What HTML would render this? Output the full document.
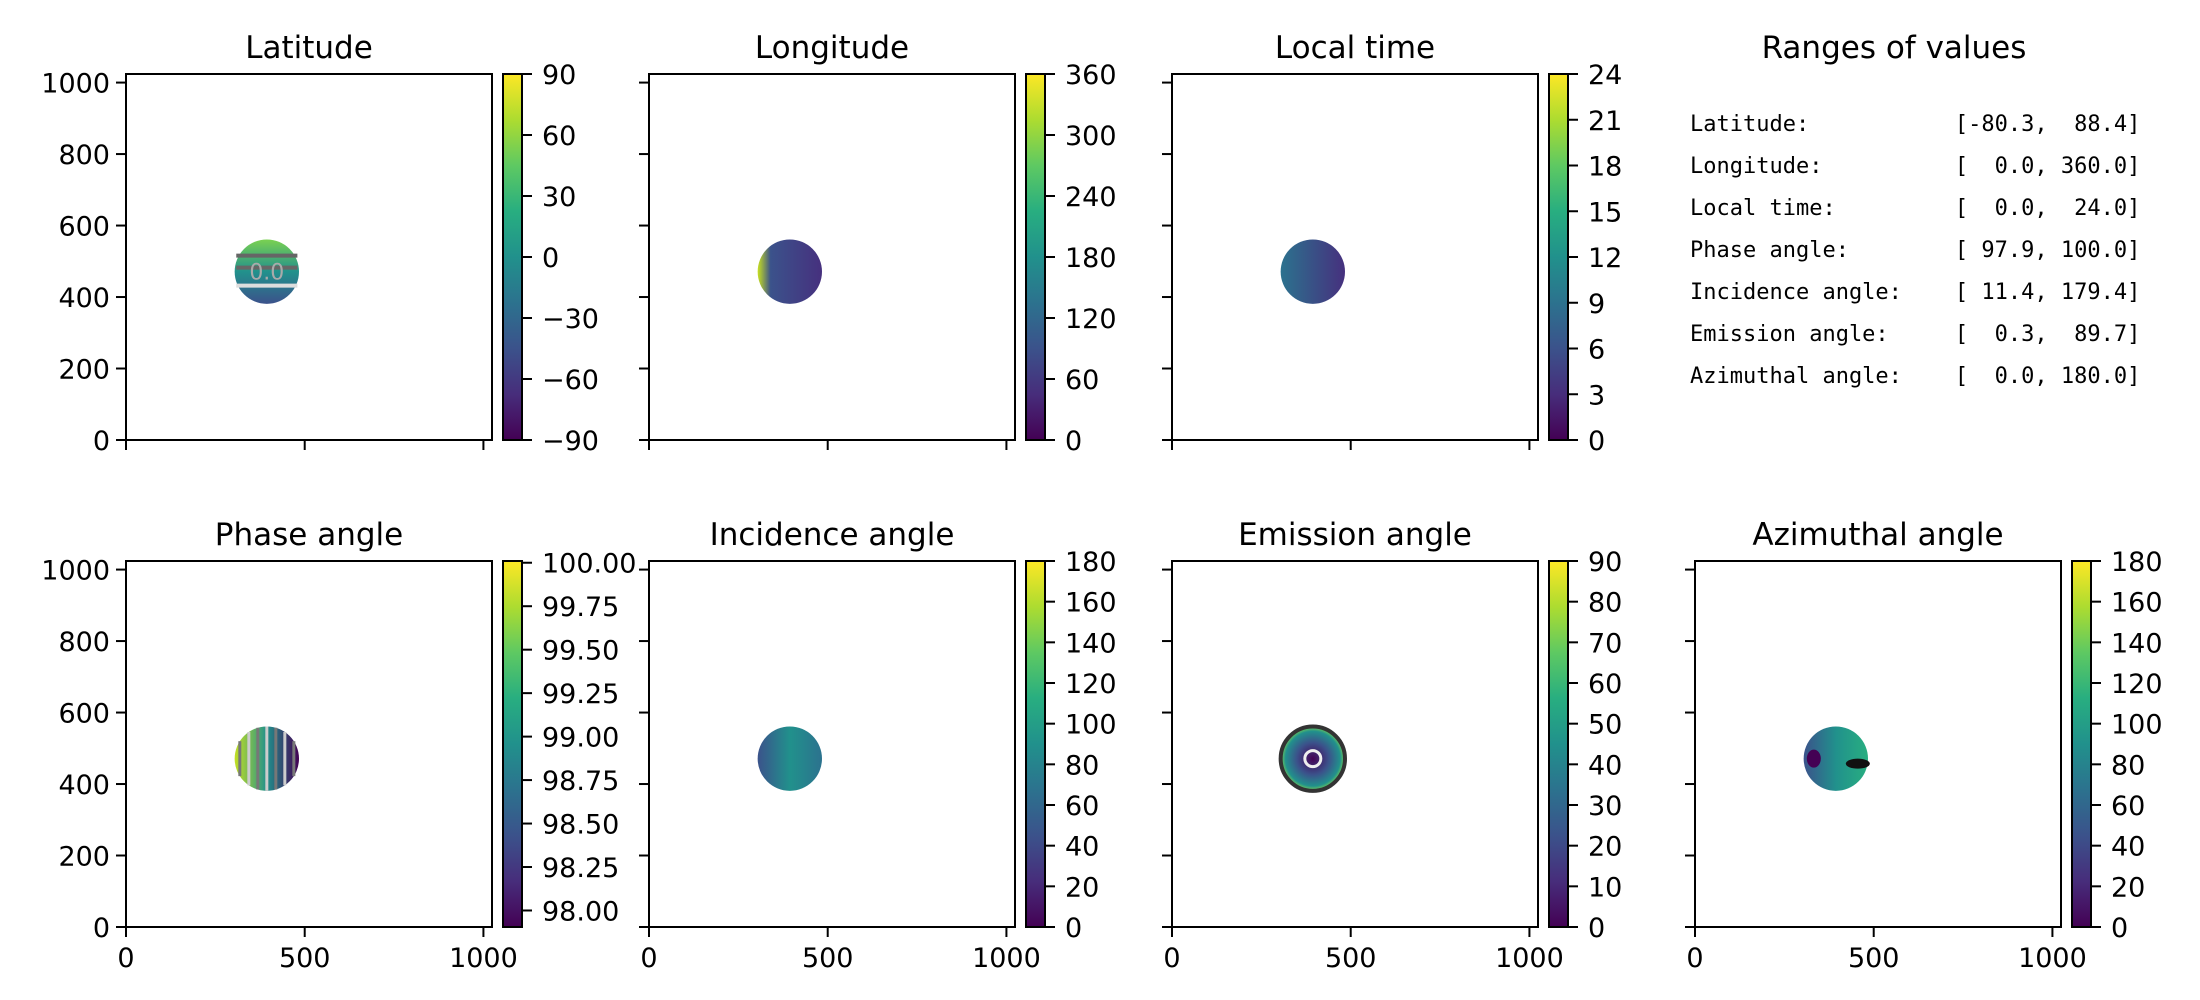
<!DOCTYPE html>
<html><head><meta charset="utf-8"><style>
html,body{margin:0;padding:0;background:#fff;}
svg{display:block;font-family:"DejaVu Sans","Liberation Sans",sans-serif;}
</style></head><body>
<svg id="fig" width="2200" height="1000" viewBox="0 0 2200 1000" xmlns="http://www.w3.org/2000/svg">
<defs>
<linearGradient id="vir" x1="0" y1="1" x2="0" y2="0">
<stop offset="0" stop-color="#440154"/><stop offset="0.125" stop-color="#472d7b"/><stop offset="0.25" stop-color="#3b528b"/><stop offset="0.375" stop-color="#2c728e"/><stop offset="0.5" stop-color="#21918c"/><stop offset="0.625" stop-color="#28ae80"/><stop offset="0.75" stop-color="#5ec962"/><stop offset="0.875" stop-color="#addc30"/><stop offset="1" stop-color="#fde725"/>
</linearGradient>
<linearGradient id="gLat" x1="0" y1="0" x2="0" y2="1"><stop offset="0" stop-color="#7ad151"/><stop offset="0.5" stop-color="#21918c"/><stop offset="1" stop-color="#3b528b"/></linearGradient>
<linearGradient id="gLon" x1="0" y1="0" x2="1" y2="0"><stop offset="0" stop-color="#c8e020"/><stop offset="0.2" stop-color="#3b528b"/><stop offset="1" stop-color="#46307e"/></linearGradient>
<linearGradient id="gLt" x1="0" y1="0" x2="1" y2="0"><stop offset="0" stop-color="#2c728e"/><stop offset="1" stop-color="#46307e"/></linearGradient>
<linearGradient id="gPh" x1="0" y1="0" x2="1" y2="0"><stop offset="0" stop-color="#c2df23"/><stop offset="0.5" stop-color="#21918c"/><stop offset="1" stop-color="#440154"/></linearGradient>
<linearGradient id="gInc" x1="0" y1="0" x2="1" y2="0"><stop offset="0" stop-color="#3b528b"/><stop offset="0.5" stop-color="#21918c"/><stop offset="1" stop-color="#2c728e"/></linearGradient>
<radialGradient id="gEm"><stop offset="0" stop-color="#440154"/><stop offset="0.5" stop-color="#3b528b"/><stop offset="0.85" stop-color="#21918c"/><stop offset="1" stop-color="#7ad151"/></radialGradient>
<linearGradient id="gAz" x1="0" y1="0" x2="1" y2="0"><stop offset="0" stop-color="#3b528b"/><stop offset="0.5" stop-color="#21918c"/><stop offset="1" stop-color="#28ae80"/></linearGradient>
</defs>
<text x="1894" y="58" font-size="31" text-anchor="middle">Ranges of values</text>
<g id="ranges" font-family="'DejaVu Sans Mono','Liberation Mono',monospace" font-size="22"></g>
</svg>
<script>
const panelTitles = ["Latitude","Longitude","Local time","Phase angle","Incidence angle","Emission angle","Azimuthal angle"];
const cbarMin = [-90, 0, 0, 97.905, 0, 0, 0];
const cbarMax = [90, 360, 24, 100.01, 180, 90, 180];
const cbarTicks = [
  [-90,-60,-30,0,30,60,90],
  [0,60,120,180,240,300,360],
  [0,3,6,9,12,15,18,21,24],
  [98.00,98.25,98.50,98.75,99.00,99.25,99.50,99.75,100.00],
  [0,20,40,60,80,100,120,140,160,180],
  [0,10,20,30,40,50,60,70,80,90],
  [0,20,40,60,80,100,120,140,160,180]
];
const cbarDecimals = [0,0,0,2,0,0,0];
const discFill = ["gLat","gLon","gLt","gPh","gInc","gEm","gAz"];
const discCenterX = [394,394,394,394,394,394,394];
const discCenterY = [471,471,471,471,471,471,471];
const discRadius = [90,90,90,90,90,90,90];
const axisTicks = [0,200,400,600,800,1000];
const xTicks = [0,500,1000];
const rangeNames = ["Latitude:","Longitude:","Local time:","Phase angle:","Incidence angle:","Emission angle:","Azimuthal angle:"];
const rangeValues = ["[-80.3,  88.4]","[  0.0, 360.0]","[  0.0,  24.0]","[ 97.9, 100.0]","[ 11.4, 179.4]","[  0.3,  89.7]","[  0.0, 180.0]"];

const NS="http://www.w3.org/2000/svg";
const svg=document.getElementById('fig');
function mk(t,a,p){const e=document.createElementNS(NS,t);for(const k in a)e.setAttribute(k,a[k]);(p||svg).appendChild(e);return e;}
const colX=[126,649,1172,1695], rowY=[74,561], W=366, H=366, LIM=1024;
const slots=[[0,0],[0,1],[0,2],[1,0],[1,1],[1,2],[1,3]];
function fmt(v,d){const s=v.toFixed(d);return v<0?'\u2212'+s.slice(1):s;}

slots.forEach(([r,c],i)=>{
  const L=colX[c],T=rowY[r];
  const xs=v=>L+v/LIM*W, ys=v=>T+H-v/LIM*H;
  const g=mk('g',{});
  
  
  const t=mk('text',{x:L+W/2,y:T-16,'font-size':31,'text-anchor':'middle'},g);t.textContent=panelTitles[i];
  
  
  const cx=xs(discCenterX[i]), cy=ys(discCenterY[i]), rr=discRadius[i]/LIM*W;
  const d=mk('ellipse',{cx:cx,cy:cy,rx:rr,ry:rr,fill:'url(#'+discFill[i]+')'},g);
  
  
  if(i===3){for(let k=-3;k<=3;k++){mk('line',{x1:cx+k*9,y1:cy-rr*Math.sqrt(1-Math.min(1,(k*9/rr)**2)),x2:cx+k*9,y2:cy+rr*Math.sqrt(1-Math.min(1,(k*9/rr)**2)),stroke:k%2?'#777':'#ccc','stroke-width':3},g);}}
  if(i===0){[-16,-4,14].forEach(o=>mk('line',{x1:cx-rr*0.95,y1:cy+o,x2:cx+rr*0.95,y2:cy+o,stroke:o<0?'#666':'#ddd','stroke-width':4},g));
    const l=mk('text',{x:cx,y:cy+8,'font-size':22,fill:'#aaa','text-anchor':'middle'},g);l.textContent='0.0';}
  if(i===5){mk('circle',{cx:cx,cy:cy,r:rr,fill:'none',stroke:'#333','stroke-width':4},g);mk('circle',{cx:cx,cy:cy,r:8,fill:'none',stroke:'#eee','stroke-width':3},g);}
  if(i===6){mk('ellipse',{cx:cx+22,cy:cy+5,rx:12,ry:5,fill:'#111'},g);mk('ellipse',{cx:cx-22,cy:cy,rx:7,ry:9,fill:'#440154'},g);}
  mk('rect',{x:L,y:T,width:W,height:H,fill:'none',stroke:'#000','stroke-width':2},g);
  axisTicks.forEach(v=>{mk('line',{x1:L-10,y1:ys(v),x2:L,y2:ys(v),stroke:'#000','stroke-width':2},g);
    if(c===0){const e=mk('text',{x:L-16,y:ys(v)+10,'font-size':27,'text-anchor':'end'},g);e.textContent=v;
      
      }});
  xTicks.forEach(v=>{mk('line',{x1:xs(v),y1:T+H,x2:xs(v),y2:T+H+10,stroke:'#000','stroke-width':2},g);
    if(r===1){const e=mk('text',{x:xs(v),y:T+H+40,'font-size':27,'text-anchor':'middle'},g);e.textContent=v;
      
      }});
  const CX=L+377, CW=19;
  const cb=mk('rect',{x:CX,y:T,width:CW,height:H,fill:'url(#vir)',stroke:'#000','stroke-width':2},g);
  
  
  const cs=v=>T+H-(v-cbarMin[i])/(cbarMax[i]-cbarMin[i])*H;
  cbarTicks[i].forEach(v=>{const y=cs(v);mk('line',{x1:CX+CW,y1:y,x2:CX+CW+10,y2:y,stroke:'#000','stroke-width':2},g);
    const e=mk('text',{x:CX+CW+20,y:y+10,'font-size':27},g);e.textContent=fmt(v,cbarDecimals[i]);
    
    });
});
const rg=document.getElementById('ranges');
rangeNames.forEach((n,i)=>{const y=131+42*i;
  const a=mk('text',{x:1690,y:y},rg);
  a.setAttributeNS('http://www.w3.org/XML/1998/namespace','xml:space','preserve');
  a.style.whiteSpace='pre';
  a.textContent=n.padEnd(20,' ')+rangeValues[i];
  
  });
</script>
</body></html>
